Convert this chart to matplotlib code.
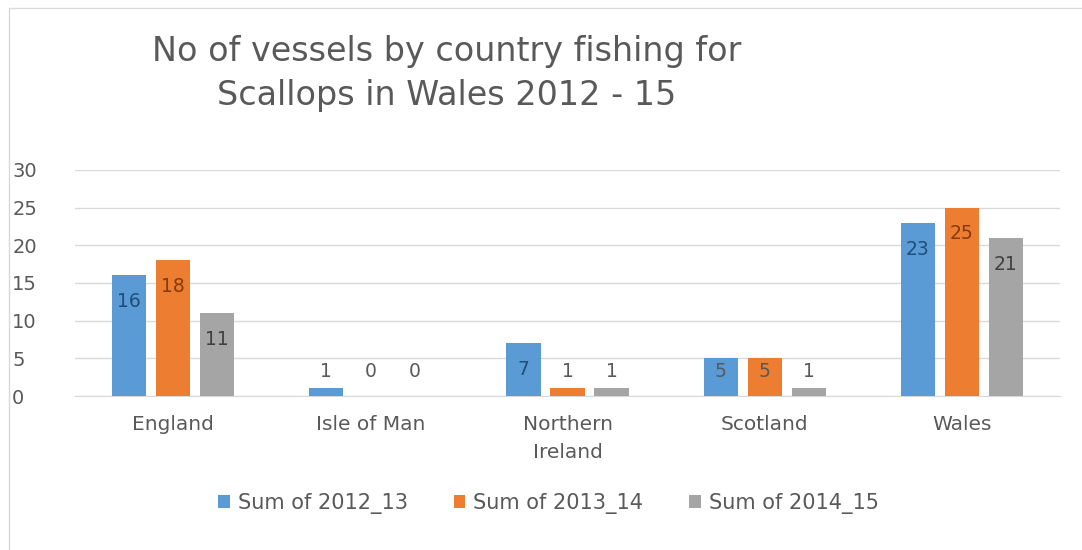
import matplotlib
matplotlib.use("Agg")
import matplotlib.pyplot as plt
from matplotlib.patches import Rectangle
import numpy as np

plt.rcParams['font.family'] = ['DejaVu Sans']

categories = ["England", "Isle of Man", "Northern\nIreland", "Scotland", "Wales"]
series_names = ["Sum of 2012_13", "Sum of 2013_14", "Sum of 2014_15"]
s2012_13 = [16, 1, 7, 5, 23]
s2013_14 = [18, 0, 1, 5, 25]
s2014_15 = [11, 0, 1, 1, 21]
series = [s2012_13, s2013_14, s2014_15]
colors = ["#5B9BD5", "#ED7D31", "#A5A5A5"]
label_colors = ["#1F4E79", "#843C0C", "#404040"]
yticks = [0, 5, 10, 15, 20, 25, 30]

fig = plt.figure(figsize=(10.82, 5.50), dpi=100)
fig.patches.append(Rectangle((0.008, -0.01), 1.0, 0.995, transform=fig.transFigure,
                             fill=False, edgecolor="#D9D9D9", linewidth=1.0))
ax = fig.add_axes([0.069, 0.28, 0.911, 0.411])

x = np.arange(len(categories))
width = 0.173
step = 0.223
for i, (vals, c, lc) in enumerate(zip(series, colors, label_colors)):
    pos = x + (i - 1) * step
    ax.bar(pos, vals, width=width, color=c, label=series_names[i], zorder=3)
    for p, v in zip(pos, vals):
        inside = v - 3.5 >= 3.3
        ly = v - 3.5 if inside else 3.3
        ax.text(p, ly, str(v), ha="center", va="center", fontsize=13.5,
                color=lc if inside else "#595959", zorder=4)

ax.set_xlim(-0.5, len(categories) - 0.5)
ax.set_ylim(0, 30)
ax.set_yticks(yticks)
ax.set_yticklabels([str(t) for t in yticks])
ax.set_xticks(x)
ax.set_xticklabels(categories, linespacing=1.6)
ax.tick_params(axis="both", length=0, labelsize=14.5, colors="#595959")
ax.tick_params(axis="y", labelsize=14)
ax.tick_params(axis="x", pad=14)
ax.tick_params(axis="y", pad=45)
for lbl in ax.get_yticklabels():
    lbl.set_horizontalalignment("left")
ax.grid(axis="y", color="#D9D9D9", linewidth=1.0, zorder=0)
for s in ["top", "right", "left"]:
    ax.spines[s].set_visible(False)
ax.spines["bottom"].set_color("#D9D9D9")

fig.text(0.413, 0.866, "No of vessels by country fishing for\nScallops in Wales 2012 - 15",
         ha="center", va="center", fontsize=24, color="#595959", linespacing=1.42)

fig.legend(loc="center", bbox_to_anchor=(0.507, 0.085), ncol=3, frameon=False,
           fontsize=15, handlelength=0.55, handleheight=0.55, handletextpad=0.4,
           columnspacing=2.2, labelcolor="#595959")

fig.savefig("out.png", dpi=100)
